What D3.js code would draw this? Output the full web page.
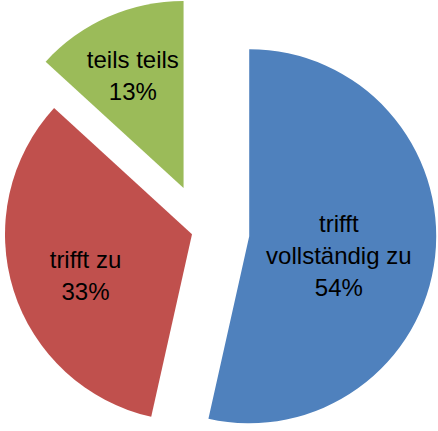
<!DOCTYPE html>
<html>
<head>
<meta charset="utf-8">
<script src="https://cdn.jsdelivr.net/npm/d3@7"></script>
<style>
  html, body { margin: 0; padding: 0; background: #fff; }
  svg text { font-family: "Liberation Sans", Arial, sans-serif; font-size: 24px; fill: #000; }
</style>
</head>
<body>
<svg id="pie_chart"></svg>
<script>
// data
const categories = ["trifft\nvollständig zu", "trifft zu", "teils teils"];
const values = [53.5, 33.3, 13.2];
const colors = ["#4F81BD", "#C0504D", "#9BBB59"];

// layout
const svg_width = 438, svg_height = 431;
const center = { x: 202.5, y: 231 };
const radius = 187;
const explode = [47, 11, 47];                 // px, along mid angle
const labelPos = [                            // angle offset (deg), distance (fraction of r)
    { da: 5.7, d: 0.49 },
    { da: -3.5, d: 0.61 },
    { da: -0.5, d: 0.66 }
];
const lineHeight = 32;

const svg = d3.select("#pie_chart")
    .attr("width", svg_width)
    .attr("height", svg_height);

const total = d3.sum(values);
const pie = d3.pie().sort(null).value(d => d)(values);
const arc = d3.arc().innerRadius(0).outerRadius(radius);

const slices = svg.selectAll(".slice")
    .data(pie)
    .enter()
    .append("g")
    .attr("class", "slice")
    .attr("transform", (d, i) => {
        const mid = (d.startAngle + d.endAngle) / 2;
        const x = center.x + Math.sin(mid) * explode[i];
        const y = center.y - Math.cos(mid) * explode[i];
        return `translate(${x},${y})`;
    });

slices.append("path")
    .attr("d", arc)
    .attr("fill", (d, i) => colors[i]);

slices.each(function(d, i) {
    const mid = (d.startAngle + d.endAngle) / 2 + labelPos[i].da * Math.PI / 180;
    const lx = Math.sin(mid) * radius * labelPos[i].d;
    const ly = -Math.cos(mid) * radius * labelPos[i].d;
    const lines = categories[i].split("\n").concat([Math.round(values[i] / total * 100) + "%"]);
    const first = ly - (lines.length - 1) * lineHeight / 2 + 8.5;

    d3.select(this).append("text")
        .attr("text-anchor", "middle")
        .selectAll("tspan")
        .data(lines)
        .enter()
        .append("tspan")
        .attr("x", lx)
        .attr("y", (t, j) => first + j * lineHeight)
        .text(t => t);
});
</script>
</body>
</html>
